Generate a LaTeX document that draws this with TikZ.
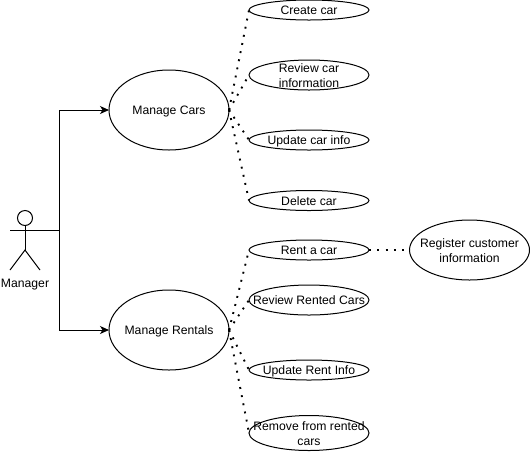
\documentclass[tikz,border=0pt]{standalone}
\usepackage{fontspec}
\setmainfont{Liberation Sans}
\usetikzlibrary{arrows.meta, shapes.geometric}
% text is centred on the ellipse and does not widen it
\newcommand{\casetext}[1]{\smash{\makebox[0pt]{\raisebox{-4.6pt}{\begin{tabular}{@{}c@{}}#1\end{tabular}}}}}

\begin{document}
\begin{tikzpicture}[
        x=1pt, y=-1pt,
        line width=1pt,
        font=\fontsize{12.2}{15}\selectfont,
        usecase/.style={
            ellipse,
            draw,
            inner sep=0pt,
            outer sep=0pt,
            minimum width=120pt
        },
        dotline/.style={
            line width=1.9pt,
            dash pattern=on 1.9pt off 6.4pt
        },
        assoc/.style={
            -{Stealth[length=9pt, width=8pt, inset=2.5pt]}
        }
    ]
        \useasboundingbox (0,0) rectangle (530,451);

        % manager
        \node[circle, draw, inner sep=0pt, outer sep=0pt, minimum size=15pt] (head) at (25,218) {};
        \coordinate (hip) at (25,250);
        \coordinate (armleft) at (10,230);
        \coordinate (armright) at (59.5,230);
        \coordinate (footleft) at (10,270);
        \coordinate (footright) at (40,270);
        \node (manager) at (25,285) {Manager};
        \draw (head.south) -- (hip);
        \draw (armleft) -- (armright);
        \draw (footleft) -- (hip) -- (footright);

        % main use cases
        \node[usecase, minimum height=80pt] (cars) at (169,110) {\casetext{Manage Cars}};
        \node[usecase, minimum height=80pt] (rentals) at (169,330) {\casetext{Manage Rentals}};
        \draw[assoc] (armright) |- (cars.west);
        \draw[assoc] (armright) |- (rentals.west);

        \foreach \texto/\nombre/\y/\alto in {
            Create car/create/10/20,
            Review car\\information/review/75/30,
            Update car info/update/140/20,
            Delete car/delete/200.5/20
        } {
            \node[usecase, minimum height=\alto pt] (\nombre) at (309,\y) {\casetext{\texto}};
            \draw[dotline] (cars.east) -- (\nombre.west);
        }

        \foreach \texto/\nombre/\y/\alto in {
            Rent a car/rent/250/20,
            Review Rented Cars/reviewrented/300/30,
            Update Rent Info/updaterent/370/20,
            Remove from rented\\cars/removerented/433/35
        } {
            \node[usecase, minimum height=\alto pt] (\nombre) at (309,\y) {\casetext{\texto}};
            \draw[dotline] (rentals.east) -- (\nombre.west);
        }

        \node[usecase, minimum height=60pt] (register) at (469.5,250) {\casetext{Register customer\\information}};
        \draw[dotline] (rent.east) -- (register.west);
    \end{tikzpicture}
\end{document}
